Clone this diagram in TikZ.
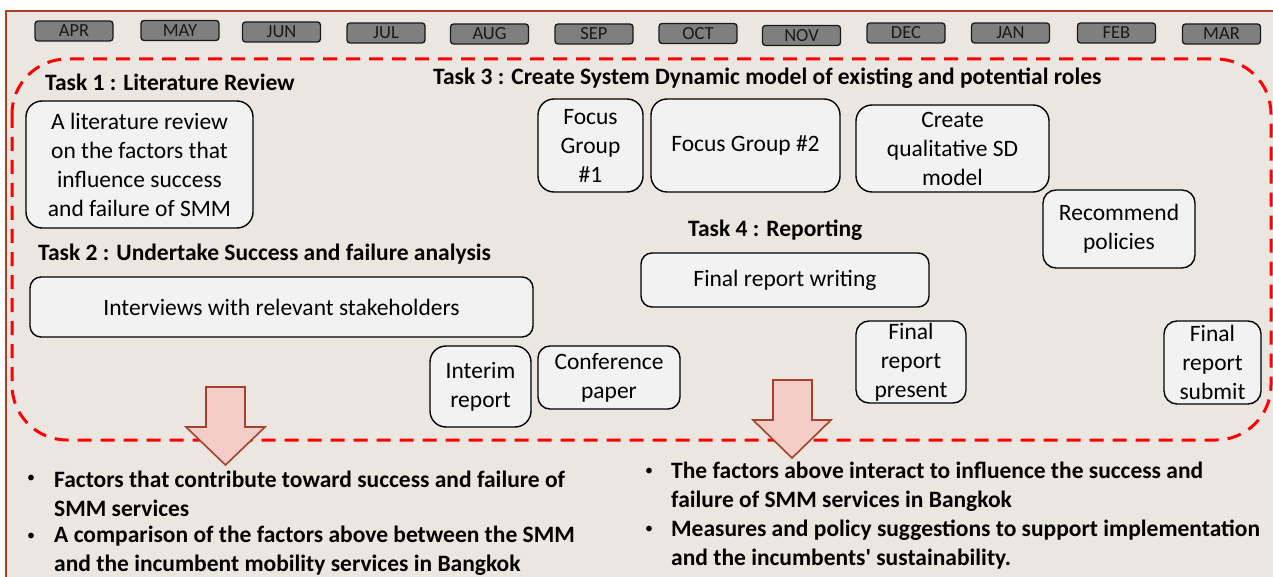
\documentclass[tikz,border=0pt]{standalone}
\usepackage{fontspec}
\setmainfont{Carlito}[Ligatures=TeXOff]
\definecolor{paper}{HTML}{EBE6E0}
\definecolor{rim}{HTML}{A5421F}
\definecolor{boxfill}{HTML}{F2F2F2}
\definecolor{monthfill}{HTML}{7F7F7F}
\definecolor{arrowfill}{HTML}{F4CDC8}
\definecolor{arrowline}{HTML}{A5422A}
\tikzset{
  month/.style={draw=black!90, line width=1.3pt, fill=monthfill, rounded corners=3pt,
    minimum width=78pt, minimum height=20pt, inner sep=0pt,
    font=\fontsize{18.5}{18.5}\selectfont, text=black!90},
  taskbox/.style={draw=black, line width=1.4pt, fill=boxfill, rounded corners=16pt,
    inner sep=0pt, align=center, font=\fontsize{23.5}{29}\selectfont},
  tasktitle/.style={anchor=west, inner sep=0pt, font=\bfseries\fontsize{23.5}{29}\selectfont},
  outcome/.style={anchor=west, inner sep=0pt, align=left, font=\bfseries\fontsize{23.5}{29}\selectfont},
  dot/.style={inner sep=0pt, font=\fontsize{16}{16}\selectfont},
  bigarrow/.style={draw=arrowline, line width=1.6pt, fill=arrowfill, line join=miter},
}
\begin{document}
\begin{tikzpicture}[x=1pt, y=-1pt]
\useasboundingbox (0,0) rectangle (1273,577);
% sheet and its rim
\fill[paper] (6,11) rectangle (1273,577);
\draw[rim, line width=1.2pt] (6,577) -- (6,11) -- (1273,11);

% month strip
\node[month] (apr) at (74,31) {APR};
\node[month] (may) at (180,30.5) {MAY};
\node[month] (jun) at (281.5,32) {JUN};
\node[month] (jul) at (386,33) {JUL};
\node[month] (aug) at (489.5,34) {AUG};
\node[month] (sep) at (594,34) {SEP};
\node[month] (oct) at (698,33.5) {OCT};
\node[month] (nov) at (801.5,35.5) {NOV};
\node[month] (dec) at (906,33) {DEC};
\node[month] (jan) at (1010.5,33) {JAN};
\node[month] (feb) at (1116.5,33) {FEB};
\node[month] (mar) at (1221.5,34) {MAR};

% project period frame
\draw[red, line width=3pt, dash pattern=on 14pt off 9pt, rounded corners=55pt]
  (12,59) rectangle (1271,440);

% task 1
\node[tasktitle] (t1) at (45,82) {Task 1 : Literature Review};
\node[taskbox, minimum width=227pt, minimum height=127pt] (lit) at (139.5,164.5)
  {A literature review\\on the factors that\\influence success\\and failure of SMM};

% task 2
\node[tasktitle] (t2) at (38,254) {Task 2 : Undertake Success and failure analysis};
\node[taskbox, rounded corners=11pt, minimum width=503pt, minimum height=60pt] (intv) at (281.5,307)
  {Interviews with relevant stakeholders};
\node[taskbox, minimum width=101pt, minimum height=81pt] (interim) at (480.5,386.5)
  {Interim\\report};
\node[taskbox, rounded corners=12pt, minimum width=142pt, minimum height=63pt] (conf) at (609,377.5)
  {Conference\\paper};

% task 3
\node[tasktitle] (t3) at (433,78) {Task 3 : Create System Dynamic model of existing and potential roles};
\node[taskbox, minimum width=105pt, minimum height=93pt] (fg1) at (590.5,145.5)
  {Focus\\Group\\\#1};
\node[taskbox, minimum width=189pt, minimum height=93pt] (fg2) at (745.5,145.5)
  {Focus Group \#2};
\node[taskbox, minimum width=193pt, minimum height=87pt] (sd) at (952.5,148.5)
  {Create\\qualitative SD\\model};
\node[taskbox, rounded corners=13pt, minimum width=152pt, minimum height=78pt] (rec) at (1119,229)
  {Recommend\\policies};

% task 4
\node[tasktitle] (t4) at (688,230) {Task 4 : Reporting};
\node[taskbox, rounded corners=11pt, minimum width=288pt, minimum height=54pt] (write) at (785,280)
  {Final report writing};
\node[taskbox, rounded corners=13pt, minimum width=110pt, minimum height=82pt] (present) at (911,362)
  {Final\\report\\present};
\node[taskbox, rounded corners=13pt, minimum width=97pt, minimum height=83pt] (submit) at (1212.5,362.5)
  {Final\\report\\submit};

% outcome arrows
\draw[bigarrow] (206,387) -- (245,387) -- (245,427) -- (265,427) -- (225.5,465)
  -- (186,427) -- (206,427) -- cycle;
\draw[bigarrow] (773,380) -- (812,380) -- (812,420) -- (831,420) -- (792,458)
  -- (753,420) -- (773,420) -- cycle;

% expected outputs
\node[dot] (d1) at (31,479) {•};
\node[outcome] (o1) at (54,493.5) {Factors that contribute toward success and failure of\\SMM services};
\node[dot] (d2) at (31,537) {•};
\node[outcome] (o2) at (54,551) {A comparison of the factors above between the SMM\\and the incumbent mobility services in Bangkok};
\node[dot] (d3) at (649,472) {•};
\node[outcome] (o3) at (671,486.5) {The factors above interact to influence the success and\\failure of SMM services in Bangkok};
\node[dot] (d4) at (649,530) {•};
\node[outcome] (o4) at (671,544.5) {Measures and policy suggestions to support implementation\\and the incumbents' sustainability.};
\end{tikzpicture}
\end{document}
